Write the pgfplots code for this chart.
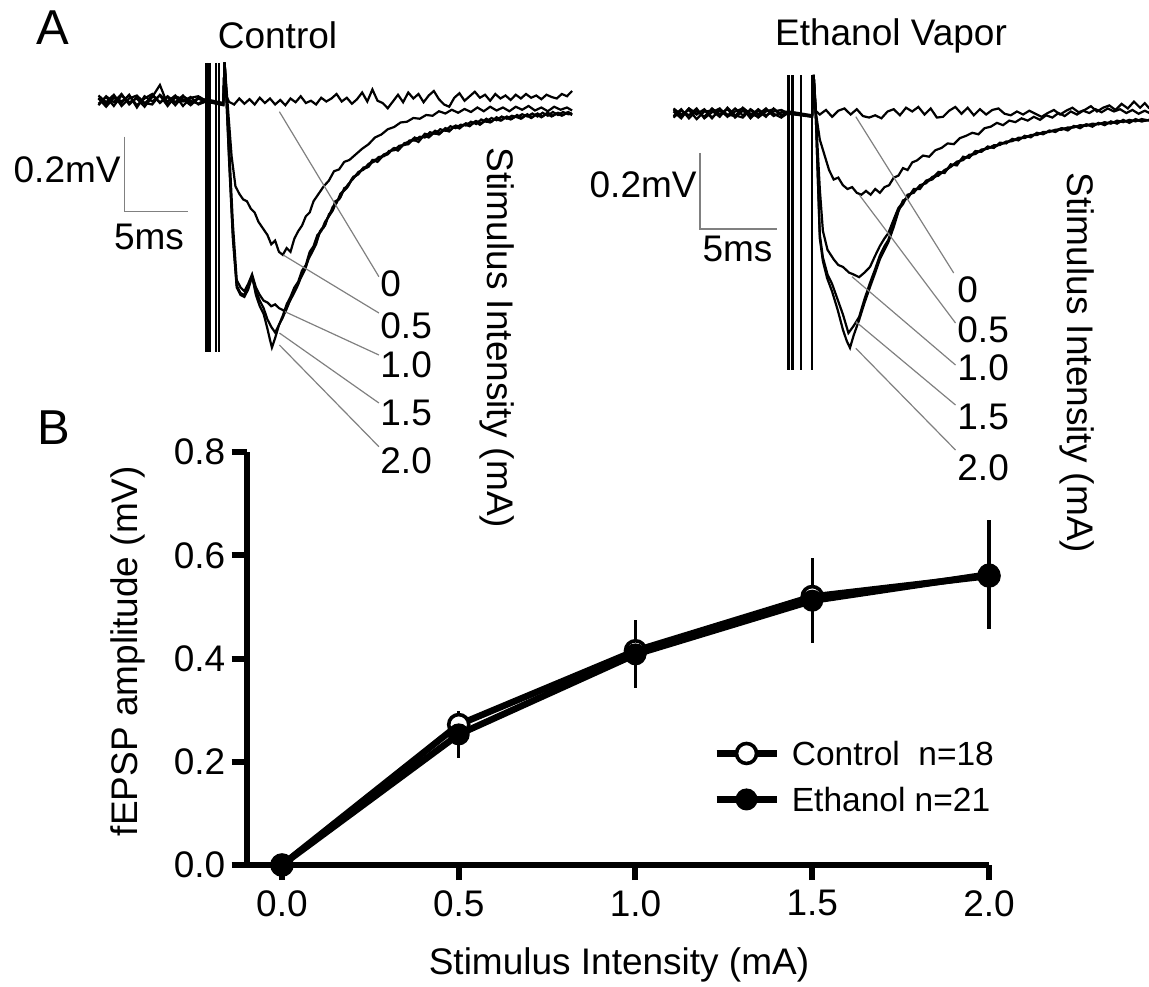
\documentclass[border=0pt]{standalone}
\usepackage{pgfplots}
\pgfplotsset{compat=1.18}
\usepackage{fontspec}
\setmainfont{Liberation Sans}

% picture is laid out on the 1149x986 reference grid, 1 px = 0.5pt
\newcommand{\px}[2]{({(#1)*0.5pt},{(986-(#2))*0.5pt})}
\newcommand{\txt}{\fontsize{18.5}{22}\selectfont}
\newcommand{\legtxt}{\fontsize{16.75}{20}\selectfont}
\newcommand{\bigtxt}{\fontsize{24.5}{28}\selectfont}

\pgfplotsset{
  trace/.style={black, line width=1.1pt, no markers},
  artifact/.style={black, line width=1.4pt, no markers},
}
\tikzset{
  lead/.style={gray, line width=0.6pt},
  sbar/.style={gray, line width=0.7pt},
}

\begin{document}
\begin{tikzpicture}
\useasboundingbox (0,0) rectangle (574.5pt,493pt);

% ---------------- A: control traces ----------------
\begin{axis}[
  at={(45.4pt,302.375pt)}, anchor=south west,
  scale only axis, width=243.2pt, height=168.75pt,
  xmin=-9, xmax=29, ymin=-0.75, ymax=0.15,
  hide axis, clip=false,
  unbounded coords=jump,
]
% stimulus artifact
\addplot[artifact] coordinates {(0.05,0.099)(0.05,-0.672) (nan,nan) (0.29,0.099)(0.29,-0.672)};
\addplot[trace, line width=0.9pt] coordinates {(0.8,0.099)(0.8,-0.672) (nan,nan) (1.0,0.099)(1.0,-0.672)};
% 0 mA
\addplot[trace] coordinates {
(-8.4,0.006)(-7.8,-0.012)(-7.2,0.01)(-6.6,-0.004)(-6.0,0.012)(-5.4,-0.014)(-4.8,0.004)(-4.2,0.016)
(-3.6,-0.008)(-3.0,0.01)(-2.4,-0.006)(-1.8,0.012)(-1.2,-0.01)(-0.6,0.006)(0,0)(1.35,-0.012)
(1.45,0.1)(1.6,0.01)(1.8,-0.005)(2.2,-0.012)(2.6,0.004)(3.0,-0.01)(3.4,0.002)(3.8,-0.012)(4.2,0.006)
(4.6,-0.008)(5.0,0.004)(5.4,-0.012)(5.8,0.0)(6.2,-0.014)(6.6,0.004)(7.0,-0.006)(7.4,0.01)(7.8,-0.008)
(8.2,-0.002)(8.6,-0.012)(9.0,0.006)(9.4,-0.004)(9.8,0.004)(10.2,0.016)(10.6,-0.004)(11.0,0.006)
(11.4,-0.01)(11.8,0.002)(12.2,0.02)(12.6,-0.004)(13.0,0.028)(13.4,-0.002)(13.8,-0.008)(14.2,-0.022)
(14.6,-0.004)(15.0,0.014)(15.4,-0.006)(15.8,0.02)(16.2,0.004)(16.6,0.016)(17.0,-0.006)(17.4,0.012)
(17.8,0.024)(18.2,0.002)(18.6,-0.012)(19.0,-0.018)(19.4,0.006)(19.8,0.018)(20.2,-0.002)(20.6,0.01)
(21.0,0.022)(21.4,0.006)(21.8,0.014)(22.2,-0.002)(22.6,0.016)(23.0,0.004)(23.4,0.012)(23.8,0.0)
(24.2,0.014)(24.6,0.004)(25.0,0.016)(25.4,0.006)(25.8,0.012)(26.2,0.002)(26.6,0.014)(27.0,0.008)
(27.4,0.004)(27.8,0.016)(28.2,0.01)(28.6,0.024)};
% 0.5 mA
\addplot[trace] coordinates {
(-8.4,-0.01)(-7.8,0.008)(-7.2,-0.016)(-6.6,0.012)(-6.0,-0.006)(-5.4,0.004)(-4.8,-0.018)(-4.2,0.008)
(-3.6,0.04)(-3.0,-0.012)(-2.4,0.006)(-1.8,-0.004)(-1.2,0.008)(-0.6,-0.012)(0,-0.004)(1.35,-0.014)
(1.45,0.1)(1.6,0.03)(1.8,-0.06)(2.0,-0.15)(2.3,-0.23)(2.6,-0.25)(2.9,-0.265)(3.2,-0.27)(3.5,-0.29)
(3.8,-0.3)(4.1,-0.325)(4.5,-0.345)(4.8,-0.36)(5.1,-0.385)(5.4,-0.375)(5.7,-0.405)(6.0,-0.413)
(6.3,-0.395)(6.6,-0.405)(6.9,-0.37)(7.2,-0.35)(7.5,-0.335)(7.8,-0.31)(8.1,-0.3)(8.4,-0.27)(8.8,-0.25)
(9.2,-0.23)(9.6,-0.215)(10.0,-0.19)(10.4,-0.185)(10.8,-0.165)(11.2,-0.16)(11.7,-0.145)(12.2,-0.13)
(12.7,-0.118)(13.2,-0.1)(13.7,-0.092)(14.2,-0.078)(14.7,-0.072)(15.2,-0.06)(15.7,-0.058)(16.2,-0.048)
(16.7,-0.05)(17.2,-0.04)(17.7,-0.042)(18.2,-0.03)(18.7,-0.036)(19.2,-0.026)(19.7,-0.034)(20.2,-0.024)
(20.7,-0.032)(21.2,-0.02)(21.7,-0.03)(22.2,-0.018)(22.7,-0.028)(23.2,-0.02)(23.7,-0.03)(24.2,-0.018)
(24.7,-0.026)(25.2,-0.016)(25.7,-0.028)(26.2,-0.02)(26.7,-0.03)(27.2,-0.018)(27.7,-0.026)(28.2,-0.02)
(28.6,-0.028)};
% 1.0 mA
\addplot[trace] coordinates {
(-8.4,0.004)(-7.8,-0.018)(-7.2,0.006)(-6.6,-0.008)(-6.0,0.014)(-5.4,-0.02)(-4.8,0.01)(-4.2,-0.004)
(-3.6,0.012)(-3.0,-0.016)(-2.4,0.01)(-1.8,0.002)(-1.2,-0.014)(-0.6,0.004)(0,-0.006)(1.35,-0.01)
(1.45,0.1)(1.6,0.02)(1.8,-0.12)(2.1,-0.33)(2.4,-0.48)(2.7,-0.5)(3.0,-0.51)(3.3,-0.49)(3.6,-0.465)
(3.9,-0.5)(4.2,-0.52)(4.5,-0.535)(4.8,-0.54)(5.1,-0.55)(5.4,-0.545)(5.7,-0.555)(6.0,-0.56)(6.2,-0.565)
(6.5,-0.54)(6.8,-0.52)(7.1,-0.5)(7.4,-0.475)(7.7,-0.455)(8.0,-0.425)(8.3,-0.405)(8.6,-0.385)(8.9,-0.35)
(9.2,-0.34)(9.5,-0.315)(9.8,-0.3)(10.1,-0.27)(10.4,-0.265)(10.7,-0.245)(11.0,-0.235)(11.4,-0.21)
(11.8,-0.2)(12.2,-0.185)(12.6,-0.18)(13.0,-0.16)(13.4,-0.165)(13.8,-0.15)(14.2,-0.145)(14.6,-0.13)
(15.0,-0.135)(15.4,-0.12)(15.8,-0.118)(16.2,-0.105)(16.6,-0.112)(17.0,-0.095)(17.4,-0.1)(17.8,-0.088)
(18.2,-0.092)(18.6,-0.08)(19.0,-0.084)(19.4,-0.07)(19.8,-0.076)(20.2,-0.065)(20.6,-0.07)(21.0,-0.058)
(21.4,-0.066)(21.8,-0.056)(22.2,-0.06)(22.6,-0.05)(23.0,-0.055)(23.4,-0.046)(23.8,-0.052)(24.2,-0.044)
(24.6,-0.05)(25.0,-0.04)(25.4,-0.048)(25.8,-0.038)(26.2,-0.046)(26.6,-0.036)(27.0,-0.044)(27.4,-0.036)
(27.8,-0.042)(28.2,-0.034)(28.6,-0.04)};
% 1.5 mA
\addplot[trace] coordinates {
(-8.4,-0.014)(-7.8,0.01)(-7.2,-0.006)(-6.6,0.016)(-6.0,-0.012)(-5.4,0.008)(-4.8,-0.01)(-4.2,0.012)
(-3.6,-0.006)(-3.0,0.008)(-2.4,-0.014)(-1.8,0.01)(-1.2,-0.002)(-0.6,-0.01)(0,0.002)(1.35,-0.008)
(1.45,0.1)(1.6,0.0)(1.8,-0.15)(2.1,-0.36)(2.4,-0.495)(2.7,-0.515)(3.0,-0.52)(3.3,-0.5)(3.6,-0.47)
(3.9,-0.51)(4.2,-0.535)(4.5,-0.555)(4.8,-0.585)(5.1,-0.605)(5.4,-0.62)(5.7,-0.6)(6.0,-0.58)(6.3,-0.555)
(6.6,-0.53)(6.9,-0.51)(7.2,-0.49)(7.5,-0.46)(7.8,-0.445)(8.1,-0.41)(8.4,-0.395)(8.7,-0.37)(9.0,-0.345)
(9.3,-0.335)(9.6,-0.305)(9.9,-0.295)(10.2,-0.27)(10.5,-0.26)(10.8,-0.235)(11.1,-0.23)(11.5,-0.205)
(11.9,-0.198)(12.3,-0.18)(12.7,-0.178)(13.1,-0.16)(13.5,-0.158)(13.9,-0.145)(14.3,-0.14)(14.7,-0.128)
(15.1,-0.13)(15.5,-0.115)(15.9,-0.112)(16.3,-0.1)(16.7,-0.106)(17.1,-0.09)(17.5,-0.094)(17.9,-0.082)
(18.3,-0.088)(18.7,-0.075)(19.1,-0.08)(19.5,-0.068)(19.9,-0.072)(20.3,-0.062)(20.7,-0.066)(21.1,-0.056)
(21.5,-0.062)(21.9,-0.05)(22.3,-0.058)(22.7,-0.046)(23.1,-0.054)(23.5,-0.044)(23.9,-0.05)(24.3,-0.04)
(24.7,-0.048)(25.1,-0.038)(25.5,-0.046)(25.9,-0.036)(26.3,-0.044)(26.7,-0.034)(27.1,-0.042)(27.5,-0.034)
(27.9,-0.04)(28.3,-0.032)(28.6,-0.038)};
% 2.0 mA
\addplot[trace] coordinates {
(-8.4,0.012)(-7.8,-0.006)(-7.2,0.014)(-6.6,-0.016)(-6.0,0.004)(-5.4,0.012)(-4.8,-0.008)(-4.2,-0.012)
(-3.6,0.014)(-3.0,-0.004)(-2.4,0.012)(-1.8,-0.016)(-1.2,0.006)(-0.6,0.01)(0,-0.002)(1.35,-0.012)
(1.45,0.1)(1.6,0.0)(1.8,-0.16)(2.1,-0.37)(2.4,-0.5)(2.7,-0.52)(3.0,-0.525)(3.3,-0.505)(3.6,-0.47)
(3.9,-0.52)(4.2,-0.55)(4.5,-0.57)(4.8,-0.61)(5.0,-0.64)(5.15,-0.66)(5.4,-0.635)(5.7,-0.6)(6.0,-0.575)
(6.3,-0.545)(6.6,-0.525)(6.9,-0.5)(7.2,-0.485)(7.5,-0.455)(7.8,-0.44)(8.1,-0.405)(8.4,-0.39)(8.7,-0.36)
(9.0,-0.35)(9.3,-0.325)(9.6,-0.31)(9.9,-0.285)(10.2,-0.275)(10.5,-0.25)(10.8,-0.24)(11.1,-0.225)
(11.5,-0.21)(11.9,-0.192)(12.3,-0.186)(12.7,-0.17)(13.1,-0.165)(13.5,-0.152)(13.9,-0.15)(14.3,-0.136)
(14.7,-0.134)(15.1,-0.122)(15.5,-0.12)(15.9,-0.108)(16.3,-0.108)(16.7,-0.098)(17.1,-0.1)(17.5,-0.086)
(17.9,-0.09)(18.3,-0.078)(18.7,-0.082)(19.1,-0.07)(19.5,-0.075)(19.9,-0.066)(20.3,-0.068)(20.7,-0.058)
(21.1,-0.064)(21.5,-0.052)(21.9,-0.058)(22.3,-0.048)(22.7,-0.054)(23.1,-0.044)(23.5,-0.05)(23.9,-0.042)
(24.3,-0.046)(24.7,-0.038)(25.1,-0.044)(25.5,-0.036)(25.9,-0.044)(26.3,-0.034)(26.7,-0.042)(27.1,-0.032)
(27.5,-0.04)(27.9,-0.032)(28.3,-0.038)(28.6,-0.036)};
% scale bar
\draw[sbar] (axis cs:-6.383,-0.0979) |- (axis cs:-1.383,-0.2979);
\end{axis}

% ---------------- A: ethanol traces ----------------
\begin{axis}[
  at={(332.9pt,294pt)}, anchor=south west,
  scale only axis, width=246.4pt, height=171pt,
  xmin=-8, xmax=24, ymin=-0.75, ymax=0.15,
  hide axis, clip=false,
  unbounded coords=jump,
]
\addplot[artifact] coordinates {(-0.03,0.1)(-0.03,-0.676) (nan,nan) (0.21,0.1)(0.21,-0.676)};
\addplot[trace, line width=1.1pt] coordinates {(0.78,0.1)(0.78,-0.676) (nan,nan) (1.49,0.1)(1.49,-0.676)};
% 0 mA
\addplot[trace] coordinates {
(-7.5,0.008)(-7.0,-0.01)(-6.5,0.012)(-6.0,-0.004)(-5.5,0.01)(-5.0,-0.012)(-4.5,0.006)(-4.0,-0.008)
(-3.5,0.012)(-3.0,-0.006)(-2.5,0.008)(-2.0,-0.012)(-1.5,0.004)(-1.0,0.01)(-0.5,-0.006)(0,0)(1.5,-0.008)
(1.6,0.1)(1.75,0.005)(2.0,-0.004)(2.4,0.008)(2.8,-0.01)(3.2,0.006)(3.6,0.012)(4.0,-0.004)(4.4,0.01)
(4.8,-0.008)(5.2,-0.012)(5.6,-0.006)(6.0,-0.014)(6.4,0.004)(6.8,0.01)(7.2,-0.006)(7.6,0.014)(8.0,0.004)
(8.4,0.016)(8.8,-0.004)(9.2,0.012)(9.6,-0.012)(10.0,-0.01)(10.4,0.006)(10.8,0.016)(11.2,-0.002)
(11.6,0.014)(12.0,-0.006)(12.4,0.01)(12.8,-0.004)(13.2,0.008)(13.6,0.012)(14.0,-0.002)(14.4,-0.006)
(14.8,0.004)(15.2,-0.004)(15.6,0.006)(16.0,-0.002)(16.4,-0.01)(16.8,0.0)(17.2,0.008)(17.6,-0.004)
(18.0,0.006)(18.4,0.014)(18.8,0.002)(19.2,0.008)(19.6,0.018)(20.0,0.004)(20.4,0.014)(20.8,0.02)
(21.2,0.008)(21.6,0.024)(22.0,0.012)(22.4,0.03)(22.8,0.014)(23.1,0.026)(23.4,0.012)};
% 0.5 mA
\addplot[trace] coordinates {
(-7.5,-0.008)(-7.0,0.01)(-6.5,-0.014)(-6.0,0.006)(-5.5,-0.01)(-5.0,0.012)(-4.5,-0.004)(-4.0,0.01)
(-3.5,-0.012)(-3.0,0.006)(-2.5,-0.008)(-2.0,0.01)(-1.5,-0.006)(-1.0,0.004)(-0.5,0.008)(0,-0.002)(1.5,-0.01)
(1.6,0.1)(1.75,0.0)(2.0,-0.07)(2.3,-0.11)(2.6,-0.15)(2.9,-0.175)(3.2,-0.17)(3.5,-0.19)(3.8,-0.2)
(4.1,-0.195)(4.4,-0.21)(4.7,-0.215)(5.0,-0.205)(5.3,-0.215)(5.6,-0.2)(5.9,-0.21)(6.2,-0.195)(6.5,-0.19)
(6.8,-0.17)(7.1,-0.165)(7.4,-0.145)(7.7,-0.15)(8.0,-0.13)(8.3,-0.125)(8.7,-0.112)(9.1,-0.115)(9.5,-0.098)
(9.9,-0.092)(10.3,-0.08)(10.7,-0.082)(11.1,-0.066)(11.5,-0.06)(11.9,-0.052)(12.3,-0.056)(12.7,-0.04)
(13.1,-0.036)(13.5,-0.026)(13.9,-0.032)(14.3,-0.02)(14.7,-0.024)(15.1,-0.014)(15.5,-0.02)(15.9,-0.01)
(16.3,-0.018)(16.7,-0.006)(17.1,-0.012)(17.5,0.0)(17.9,-0.008)(18.3,0.004)(18.7,-0.004)(19.1,0.006)
(19.5,0.0)(19.9,0.01)(20.3,0.002)(20.7,0.012)(21.1,0.004)(21.5,0.01)(21.9,0.0)(22.3,0.008)(22.7,-0.002)
(23.1,0.006)(23.4,0.0)};
% 1.0 mA
\addplot[trace] coordinates {
(-7.5,0.012)(-7.0,-0.004)(-6.5,0.008)(-6.0,-0.016)(-5.5,0.004)(-5.0,0.006)(-4.5,-0.01)(-4.0,0.014)
(-3.5,-0.006)(-3.0,-0.012)(-2.5,0.01)(-2.0,-0.004)(-1.5,0.012)(-1.0,-0.008)(-0.5,0.002)(0,0.004)(1.5,-0.006)
(1.6,0.1)(1.75,-0.01)(2.0,-0.2)(2.2,-0.31)(2.5,-0.36)(2.9,-0.385)(3.2,-0.4)(3.5,-0.405)(3.9,-0.42)
(4.2,-0.425)(4.55,-0.432)(4.9,-0.42)(5.26,-0.405)(5.6,-0.375)(5.9,-0.35)(6.2,-0.33)(6.45,-0.316)
(6.8,-0.28)(7.1,-0.25)(7.4,-0.235)(7.7,-0.22)(8.1,-0.205)(8.5,-0.195)(8.9,-0.18)(9.3,-0.175)(9.7,-0.16)
(10.1,-0.155)(10.5,-0.14)(10.9,-0.132)(11.3,-0.12)(11.7,-0.115)(12.1,-0.105)(12.5,-0.1)(12.9,-0.092)
(13.3,-0.09)(13.7,-0.082)(14.1,-0.078)(14.5,-0.072)(14.9,-0.07)(15.3,-0.062)(15.7,-0.06)(16.1,-0.054)
(16.5,-0.055)(16.9,-0.048)(17.3,-0.046)(17.7,-0.04)(18.1,-0.042)(18.5,-0.035)(18.9,-0.036)(19.3,-0.03)
(19.7,-0.032)(20.1,-0.027)(20.5,-0.03)(20.9,-0.024)(21.3,-0.026)(21.7,-0.02)(22.1,-0.024)(22.5,-0.018)
(22.9,-0.022)(23.4,-0.018)};
% 1.5 mA
\addplot[trace] coordinates {
(-7.5,-0.012)(-7.0,0.006)(-6.5,-0.006)(-6.0,0.012)(-5.5,-0.014)(-5.0,0.002)(-4.5,0.012)(-4.0,-0.01)
(-3.5,0.004)(-3.0,0.012)(-2.5,-0.014)(-2.0,0.006)(-1.5,-0.01)(-1.0,0.012)(-0.5,-0.004)(0,-0.002)(1.5,-0.008)
(1.6,0.1)(1.75,-0.02)(2.0,-0.32)(2.2,-0.38)(2.5,-0.425)(2.8,-0.45)(3.15,-0.49)(3.5,-0.53)(3.86,-0.579)
(4.2,-0.56)(4.55,-0.537)(4.9,-0.49)(5.26,-0.447)(5.6,-0.41)(5.9,-0.375)(6.2,-0.35)(6.45,-0.334)
(6.8,-0.29)(7.1,-0.255)(7.4,-0.24)(7.7,-0.215)(8.1,-0.21)(8.5,-0.19)(8.9,-0.185)(9.3,-0.168)(9.7,-0.165)
(10.1,-0.15)(10.5,-0.142)(10.9,-0.128)(11.3,-0.124)(11.7,-0.11)(12.1,-0.108)(12.5,-0.096)(12.9,-0.094)
(13.3,-0.085)(13.7,-0.084)(14.1,-0.075)(14.5,-0.074)(14.9,-0.065)(15.3,-0.066)(15.7,-0.058)(16.1,-0.058)
(16.5,-0.05)(16.9,-0.05)(17.3,-0.044)(17.7,-0.044)(18.1,-0.038)(18.5,-0.038)(18.9,-0.032)(19.3,-0.034)
(19.7,-0.028)(20.1,-0.03)(20.5,-0.024)(20.9,-0.028)(21.3,-0.02)(21.7,-0.024)(22.1,-0.018)(22.5,-0.022)
(22.9,-0.016)(23.4,-0.02)};
% 2.0 mA
\addplot[trace] coordinates {
(-7.5,0.004)(-7.0,-0.014)(-6.5,0.012)(-6.0,-0.002)(-5.5,0.008)(-5.0,-0.014)(-4.5,0.01)(-4.0,-0.004)
(-3.5,-0.008)(-3.0,0.014)(-2.5,-0.002)(-2.0,-0.01)(-1.5,0.008)(-1.0,-0.002)(-0.5,-0.012)(0,0.002)(1.5,-0.01)
(1.6,0.1)(1.75,-0.02)(2.0,-0.33)(2.2,-0.39)(2.47,-0.434)(2.8,-0.47)(3.16,-0.518)(3.5,-0.57)(3.75,-0.6)
(3.96,-0.618)(4.2,-0.585)(4.55,-0.545)(4.9,-0.5)(5.26,-0.458)(5.6,-0.42)(5.9,-0.385)(6.2,-0.36)
(6.45,-0.34)(6.8,-0.3)(7.1,-0.26)(7.4,-0.23)(7.7,-0.225)(8.1,-0.2)(8.5,-0.2)(8.9,-0.178)(9.3,-0.172)
(9.7,-0.155)(10.1,-0.158)(10.5,-0.135)(10.9,-0.138)(11.3,-0.115)(11.7,-0.118)(12.1,-0.1)(12.5,-0.102)
(12.9,-0.088)(13.3,-0.092)(13.7,-0.078)(14.1,-0.08)(14.5,-0.068)(14.9,-0.072)(15.3,-0.06)(15.7,-0.064)
(16.1,-0.052)(16.5,-0.056)(16.9,-0.046)(17.3,-0.05)(17.7,-0.04)(18.1,-0.046)(18.5,-0.034)(18.9,-0.04)
(19.3,-0.03)(19.7,-0.036)(20.1,-0.026)(20.5,-0.032)(20.9,-0.022)(21.3,-0.028)(21.7,-0.018)(22.1,-0.026)
(22.5,-0.016)(22.9,-0.022)(23.4,-0.018)};
\draw[sbar] (axis cs:-5.78,-0.105) |- (axis cs:-0.78,-0.305);
\end{axis}

% ---------------- A: labels ----------------
\node[font=\bigtxt] at \px{53}{28} {A};
\node[font=\txt] at \px{277.5}{35} {Control};
\node[font=\txt] at \px{891}{36} {Ethanol Vapor};
\node[font=\txt, anchor=east, inner sep=0pt] at \px{121}{170} {0.2mV};
\node[font=\txt] at \px{149}{237} {5ms};
\node[font=\txt, anchor=east, inner sep=0pt] at \px{697}{185} {0.2mV};
\node[font=\txt] at \px{737.5}{249} {5ms};
\node[font=\txt, rotate=-90] at \px{497}{338} {Stimulus Intensity (mA)};
\node[font=\txt, rotate=-90] at \px{1077}{363} {Stimulus Intensity (mA)};
% leader lines and intensity labels, control
\draw[lead] \px{279.4}{111.7} -- \px{378.9}{276.7};
\draw[lead] \px{283.2}{255} -- \px{378.9}{313};
\draw[lead] \px{285}{311.7} -- \px{378.9}{355};
\draw[lead] \px{279.4}{333} -- \px{378.9}{403};
\draw[lead] \px{279.4}{345} -- \px{378.9}{446.7};
\foreach \lab/\yy in {0/284, 0.5/326, 1.0/365, 1.5/413, 2.0/461}
  \node[font=\txt, anchor=west, inner sep=0pt] at \px{380}{\yy} {\lab};
% leader lines and intensity labels, ethanol
\draw[lead] \px{855.8}{116.7} -- \px{953.7}{273};
\draw[lead] \px{859.4}{195} -- \px{955.5}{323};
\draw[lead] \px{852}{276.7} -- \px{955.5}{365};
\draw[lead] \px{855.8}{321.7} -- \px{955.5}{405};
\draw[lead] \px{855.8}{348.3} -- \px{955.5}{450};
\foreach \lab/\yy in {0/290, 0.5/330, 1.0/368, 1.5/417, 2.0/468}
  \node[font=\txt, anchor=west, inner sep=0pt] at \px{957}{\yy} {\lab};

% ---------------- B ----------------
\node[font=\bigtxt] at \px{54}{428} {B};
\begin{axis}[
  at={(123.3pt,60.5pt)}, anchor=south west,
  scale only axis, width=371.2pt, height=206.5pt,
  xmin=-0.1, xmax=2.0, ymin=0, ymax=0.8,
  axis x line*=bottom, axis y line*=left,
  axis line style={draw=none},
  xtick={0,0.5,1,1.5,2}, ytick={0,0.2,0.4,0.6,0.8},
  tick align=outside, major tick length=7.5pt,
  xtick style={line width=3pt, black},
  ytick style={line width=3pt, black},
  /pgf/number format/fixed,
  /pgf/number format/fixed zerofill,
  /pgf/number format/precision=1,
  /pgf/number format/assume math mode=true,
  tick label style={font=\txt},
  yticklabel style={inner sep=0pt, xshift=-3pt},
  xticklabel style={inner sep=0pt, yshift=-5pt},
  xlabel={Stimulus Intensity (mA)},
  ylabel={fEPSP amplitude (mV)},
  label style={font=\txt},
  xlabel style={at={(axis description cs:0.5016,-0.265)}, anchor=base},
  ylabel style={at={(axis description cs:-0.1598,0.518)}, anchor=center},
  clip=false,
  legend cell align=left,
  legend style={at={(axis description cs:0.628,0.305)}, anchor=north west,
    draw=none, fill=none, inner sep=0pt, row sep=9pt, column sep=5pt,
    font=\legtxt, nodes={inner sep=1pt, text height=12pt, text depth=0pt}},
  legend image code/.code={\draw[mark repeat=2, mark phase=2, #1]
    plot coordinates {(0pt,0pt)(15pt,0pt)(30pt,0pt)};},
  every axis plot/.append style={line width=3.3pt, mark size=5pt},
]
% axis lines, drawn heavy as in the original
\draw[line width=3pt, black, line join=miter]
  (axis cs:-0.1,0.8) -- (axis cs:-0.1,0) -- (axis cs:2,0);
\addplot[black, mark=*, mark options={fill=white, draw=black, line width=1.8pt},
  error bars/.cd, y dir=both, y explicit,
  error bar style={line width=1.6pt, black}, error mark=none]
  coordinates {(0,0) +- (0,0) (0.5,0.272) +- (0,0.022) (1.0,0.415) +- (0,0.055)
               (1.5,0.52) +- (0,0.07) (2.0,0.56) +- (0,0.09)};
\addlegendentry{Control\ \ n=18}
\addplot[black, mark=*, mark options={fill=black, draw=black, line width=1pt},
  error bars/.cd, y dir=both, y explicit,
  error bar style={line width=1.6pt, black}, error mark=none]
  coordinates {(0,0) +- (0,0) (0.5,0.253) +- (0,0.045) (1.0,0.408) +- (0,0.066)
               (1.5,0.512) +- (0,0.082) (2.0,0.563) +- (0,0.106)};
\addlegendentry{Ethanol n=21}
\end{axis}
\end{tikzpicture}
\end{document}
